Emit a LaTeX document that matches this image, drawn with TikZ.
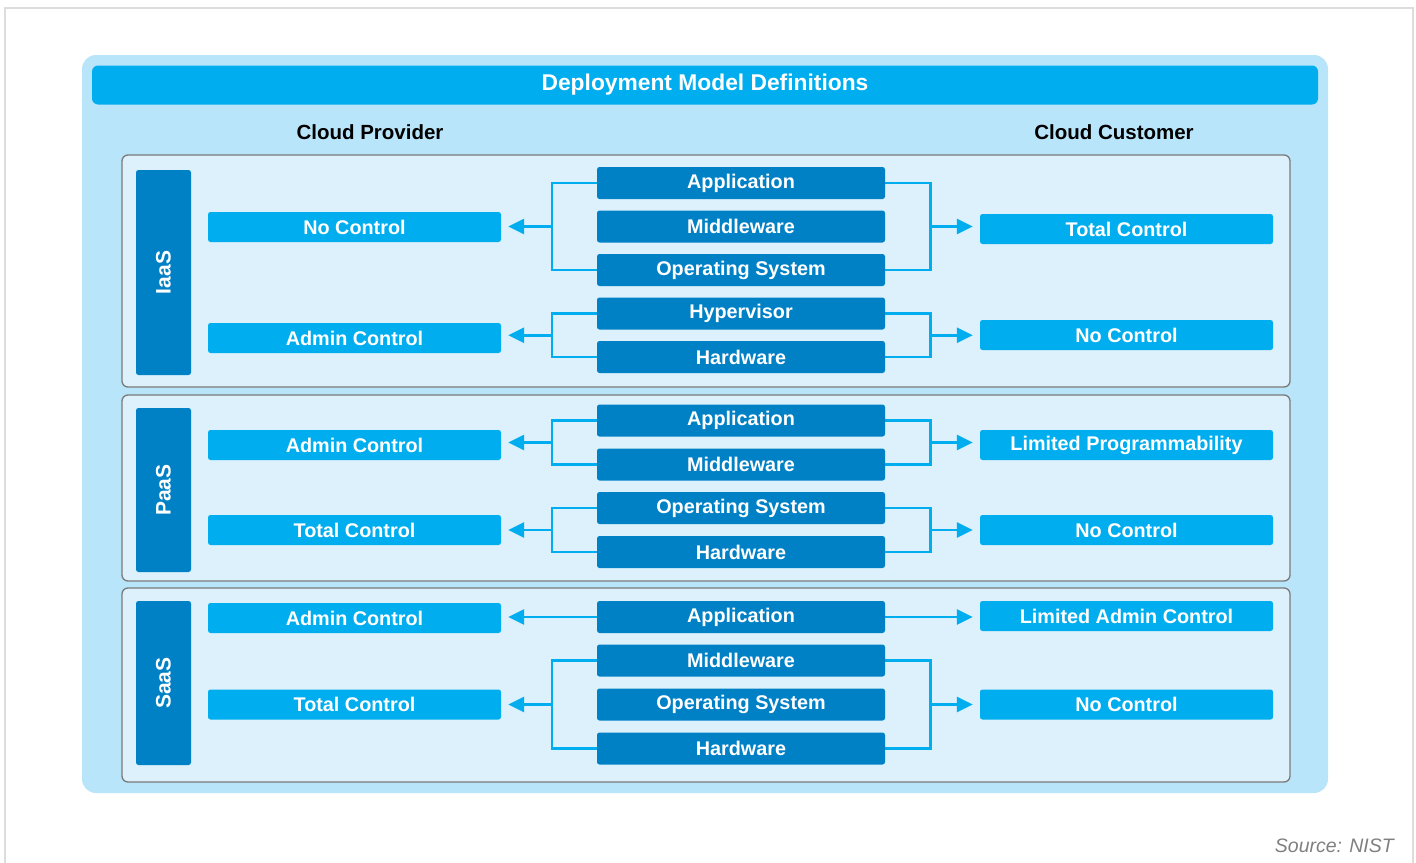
\documentclass[tikz,border=0pt]{standalone}
\usepackage{fontspec}
\setmainfont{Liberation Sans}
\usetikzlibrary{arrows.meta,calc}
\definecolor{bright}{HTML}{00AEEF}
\definecolor{darkb}{HTML}{0081C6}
\definecolor{panel}{HTML}{B9E5FA}
\definecolor{secfill}{HTML}{DCF1FC}
\definecolor{secline}{HTML}{7A7A7A}
\definecolor{frame}{HTML}{DDDDDD}
\definecolor{srcgray}{HTML}{7F7F7F}
\begin{document}
\begin{tikzpicture}[x=1pt,y=-1pt,
  lbl/.style={font=\fontsize{19.8}{20}\selectfont\bfseries,text=white,inner sep=0pt},
  midbox/.style={lbl,fill=darkb,rounded corners=2.5pt,minimum width=288pt,minimum height=32pt},
  sidebox/.style={lbl,fill=bright,rounded corners=2.5pt,minimum width=293pt,minimum height=30pt},
  tagbox/.style={lbl,fill=darkb,rounded corners=2.5pt,minimum width=55pt,font=\fontsize{21}{22}\selectfont\bfseries},
  section/.style={draw=secline,line width=1.3pt,fill=secfill,rounded corners=6pt,minimum width=1168pt,inner sep=0pt},
  conn/.style={draw=bright,line width=2.6pt},
  arr/.style={conn,-{Triangle[length=16pt,width=15pt]},shorten >=7pt},
  head/.style={font=\fontsize{20.5}{22}\selectfont\bfseries,text=black,inner sep=0pt}]
\useasboundingbox (0,0) rectangle (1416,862);
\draw[frame,line width=2.5pt] (5,875) -- (5,8) -- (1413,8) -- (1413,875);
% panel and title
\node[fill=panel,rounded corners=14pt,minimum width=1246pt,minimum height=738pt,inner sep=0pt] (panel) at (705,424) {};
\node[fill=bright,rounded corners=6pt,minimum width=1226pt,minimum height=39pt,lbl,font=\fontsize{22.8}{23}\selectfont\bfseries] (title) at (705,85) {Deployment Model Definitions};
\node[head] (prov) at (370,132) {Cloud Provider};
\node[head] (cust) at (1114,132) {Cloud Customer};
% sections
\node[section,minimum height=232pt] (secI) at (706,271) {};
\node[section,minimum height=186pt] (secP) at (706,488) {};
\node[section,minimum height=194pt] (secS) at (706,685) {};
\node[tagbox,minimum height=205pt] (tagI) at (163.5,272.5) {\rotatebox{90}{IaaS}};
\node[tagbox,minimum height=164pt] (tagP) at (163.5,490) {\rotatebox{90}{PaaS}};
\node[tagbox,minimum height=164pt] (tagS) at (163.5,683) {\rotatebox{90}{SaaS}};
% IaaS
\node[midbox] (i1) at (741,183) {Application};
\node[midbox] (i2) at (741,226.5) {Middleware};
\node[midbox] (i3) at (741,270) {Operating System};
\node[midbox] (i4) at (741,313.5) {Hypervisor};
\node[midbox] (i5) at (741,357) {Hardware};
\node[sidebox] (iL1) at (354.5,227) {No Control};
\node[sidebox] (iL2) at (354.5,338) {Admin Control};
\node[sidebox] (iR1) at (1126.5,229) {Total Control};
\node[sidebox] (iR2) at (1126.5,335) {No Control};
% PaaS
\node[midbox] (p1) at (741,420.5) {Application};
\node[midbox] (p2) at (741,464.5) {Middleware};
\node[midbox] (p3) at (741,508) {Operating System};
\node[midbox] (p4) at (741,552) {Hardware};
\node[sidebox] (pL1) at (354.5,445) {Admin Control};
\node[sidebox] (pL2) at (354.5,530) {Total Control};
\node[sidebox] (pR1) at (1126.5,445) {Limited Programmability};
\node[sidebox] (pR2) at (1126.5,530) {No Control};
% SaaS
\node[midbox] (s1) at (741,617) {Application};
\node[midbox] (s2) at (741,660.5) {Middleware};
\node[midbox] (s3) at (741,704.5) {Operating System};
\node[midbox] (s4) at (741,748.5) {Hardware};
\node[sidebox] (sL1) at (354.5,618) {Admin Control};
\node[sidebox] (sL2) at (354.5,704.5) {Total Control};
\node[sidebox] (sR1) at (1126.5,616) {Limited Admin Control};
\node[sidebox] (sR2) at (1126.5,704.5) {No Control};
% brackets
\foreach \t/\b/\l/\r in {i1/i3/iL1/iR1, i4/i5/iL2/iR2, p1/p2/pL1/pR1, p3/p4/pL2/pR2, s2/s4/sL2/sR2}{
  \draw[conn] (\t.west) -- ++(-45,0) |- (\b.west);
  \draw[conn] (\t.east) -- ++(45,0) |- (\b.east);
  \coordinate (cl) at ($(\t.west)!0.5!(\b.west)+(-45,0)$);
  \coordinate (cr) at ($(\t.east)!0.5!(\b.east)+(45,0)$);
  \draw[arr] (cl) -- (cl -| \l.east);
  \draw[arr] (cr) -- (cr -| \r.west);
}
\draw[arr] (s1.west) -- (s1.west -| sL1.east);
\draw[arr] (s1.east) -- (s1.east -| sR1.west);
\node[font=\fontsize{19.5}{20}\selectfont\itshape,text=srcgray,anchor=east,inner sep=0pt] (src) at (1394,846) {Source: NIST};
\end{tikzpicture}
\end{document}
